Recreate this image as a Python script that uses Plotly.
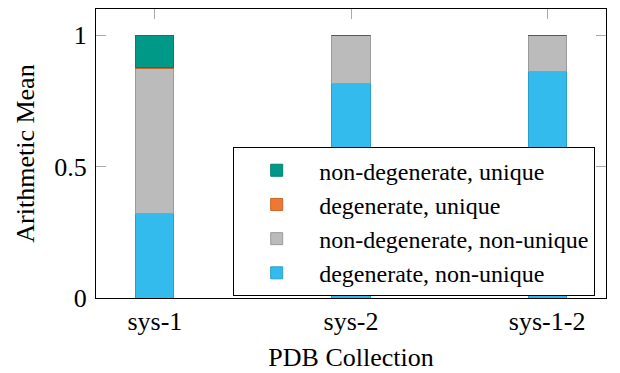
import plotly.graph_objects as go

categories = ["sys-1", "sys-2", "sys-1-2"]
degenerate_non_unique = [0.323, 0.816, 0.863]
non_degenerate_non_unique = [0.551, 0.182, 0.135]
degenerate_unique = [0.004, 0.002, 0.002]
non_degenerate_unique = [0.122, 0.0, 0.0]

series = [
    ("degenerate, non-unique", degenerate_non_unique, "#33BBEE", "#2A9FCC"),
    ("non-degenerate, non-unique", non_degenerate_non_unique, "#BBBBBB", "#9A9A9A"),
    ("degenerate, unique", degenerate_unique, "#EE7733", "#C86428"),
    ("non-degenerate, unique", non_degenerate_unique, "#009988", "#00806F"),
]

FONT = "Liberation Serif"
FS = 26

fig = go.Figure()
for name, vals, col, edge in series:
    fig.add_trace(go.Bar(
        x=categories, y=vals, name=name, width=0.195,
        marker=dict(color=col, line=dict(color=edge, width=1)),
    ))

fig.update_layout(
    template="none",
    barmode="stack",
    width=612, height=365,
    margin=dict(l=88, r=14, t=1, b=75),
    paper_bgcolor="white", plot_bgcolor="white",
    font=dict(family=FONT, size=FS, color="black"),
    showlegend=True,
    legend=dict(
        traceorder="reversed",
        x=0.269, y=0.522, xanchor="left", yanchor="top",
        bgcolor="white", bordercolor="black", borderwidth=1,
        font=dict(family=FONT, size=24, color="black"),
        itemwidth=75,
    ),
)
fig.update_xaxes(
    range=[-0.3, 2.3], automargin=False,
    showline=True, linecolor="black", linewidth=1, mirror="ticks",
    ticks="inside", ticklen=10, tickcolor="#AAAAAA",
    showgrid=False, zeroline=False, layer="below traces", ticklabelstandoff=0,
    title=dict(text="PDB Collection", standoff=12,
               font=dict(family=FONT, size=FS, color="black")),
    tickfont=dict(family=FONT, size=FS, color="black"),
)
fig.update_yaxes(
    range=[0, 1.1], tickvals=[0, 0.5, 1], ticktext=["0", "0.5", "1"],
    automargin=False,
    showline=True, linecolor="black", linewidth=1, mirror="ticks",
    ticks="inside", ticklen=10, tickcolor="#AAAAAA",
    showgrid=False, zeroline=False, ticklabelstandoff=3,
    title=dict(text="Arithmetic Mean", standoff=12,
               font=dict(family=FONT, size=FS, color="black")),
    tickfont=dict(family=FONT, size=FS, color="black"),
)

fig.write_html("out.html")
